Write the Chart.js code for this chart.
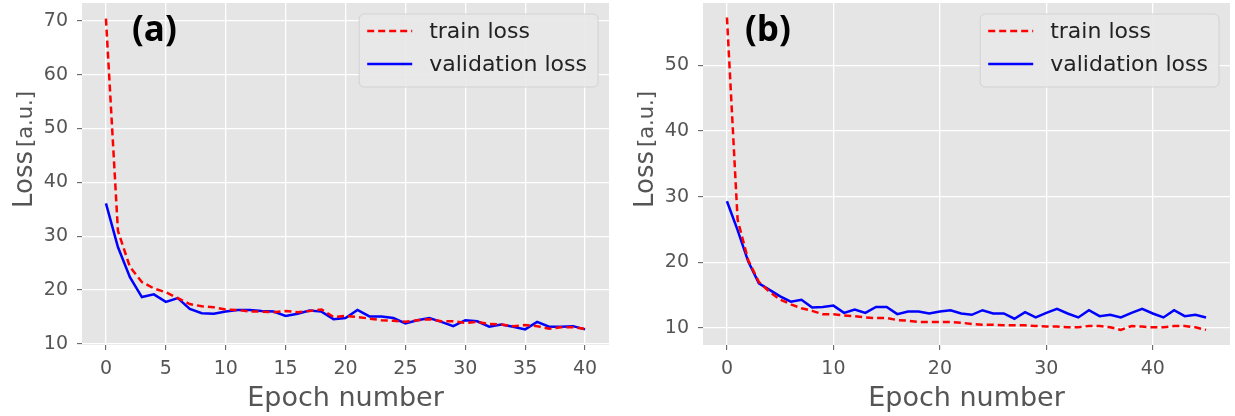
<!DOCTYPE html>
<html>
<head>
<meta charset="utf-8">
<title>Loss curves</title>
<script src="https://cdn.jsdelivr.net/npm/chart.js@4.4.1/dist/chart.umd.min.js"></script>
<style>
  html, body { margin: 0; padding: 0; background: #fff; }
  #wrap { position: relative; width: 1235px; height: 416px; }
  .panel { position: absolute; top: 0; height: 416px; }
  #panel-a { left: 0; width: 615px; }
  #panel-b { left: 615px; width: 620px; }
</style>
</head>
<body>
<div id="wrap">
  <div class="panel" id="panel-a"><canvas id="chart-a"></canvas></div>
  <div class="panel" id="panel-b"><canvas id="chart-b"></canvas></div>
</div>
<script>
// panel (a) - 41 epochs
var trainLossA = [70.4, 31.0, 24.3, 21.5, 20.3, 19.6, 18.5, 17.4, 17.0, 16.8,
                  16.4, 16.3, 16.0, 16.0, 15.9, 16.1, 15.9, 16.1, 16.4, 15.0,
                  15.2, 15.0, 14.7, 14.4, 14.3, 14.1, 14.4, 14.6, 14.2, 14.2,
                  13.9, 14.1, 13.7, 13.6, 13.3, 13.5, 13.3, 12.8, 13.1, 13.1, 12.8];
var valLossA = [36.1, 28.0, 22.4, 18.7, 19.2, 17.8, 18.5, 16.5, 15.7, 15.6,
                16.0, 16.3, 16.3, 16.1, 16.0, 15.2, 15.6, 16.2, 16.0, 14.6,
                14.8, 16.3, 15.1, 15.1, 14.8, 13.8, 14.4, 14.8, 14.1, 13.3,
                14.4, 14.2, 13.2, 13.6, 13.2, 12.7, 14.1, 13.2, 13.2, 13.3, 12.7];
var xTicksA = [0, 5, 10, 15, 20, 25, 30, 35, 40];
var yTicksA = [10, 20, 30, 40, 50, 60, 70];

// panel (b) - 46 epochs
var trainLossB = [57.3, 26.5, 20.3, 17.0, 15.5, 14.3, 13.6, 13.0, 12.6, 12.1,
                  12.1, 11.9, 11.8, 11.6, 11.5, 11.5, 11.2, 11.1, 10.9, 10.9,
                  10.9, 10.9, 10.8, 10.6, 10.5, 10.5, 10.4, 10.4, 10.4, 10.3,
                  10.2, 10.2, 10.1, 10.1, 10.3, 10.3, 10.1, 9.7, 10.3, 10.2,
                  10.1, 10.1, 10.3, 10.3, 10.1, 9.7];
var valLossB = [29.3, 24.9, 20.1, 16.8, 15.8, 14.8, 14.0, 14.3, 13.1, 13.2,
                13.4, 12.3, 12.8, 12.3, 13.2, 13.2, 12.1, 12.5, 12.5, 12.2,
                12.5, 12.7, 12.2, 12.0, 12.7, 12.2, 12.2, 11.4, 12.4, 11.6,
                12.3, 12.9, 12.2, 11.6, 12.7, 11.8, 12.0, 11.6, 12.3, 12.9,
                12.2, 11.6, 12.7, 11.8, 12.0, 11.6];
var xTicksB = [0, 10, 20, 30, 40];
var yTicksB = [10, 20, 30, 40, 50];

var seriesLabels = ['train loss', 'validation loss'];

var FONT = "'DejaVu Sans', sans-serif";
var TICK_COLOR = '#555555';

// grey plot background (ggplot look)
var plotBg = {
  id: 'plotBg',
  beforeDraw: function(chart){
    var a = chart.chartArea, ctx = chart.ctx;
    ctx.save();
    ctx.fillStyle = '#E5E5E5';
    ctx.fillRect(a.left, a.top, a.right - a.left, a.bottom - a.top);
    ctx.restore();
  }
};

// "Loss [a.u.]" - two sizes, so drawn by hand
var yTitle = {
  id: 'yTitle',
  afterDraw: function(chart, args, opts){
    var a = chart.chartArea, ctx = chart.ctx;
    var startY = (a.top + a.bottom) / 2 + 34;
    ctx.save();
    ctx.translate(opts.x, startY);
    ctx.rotate(-Math.PI / 2);
    ctx.fillStyle = TICK_COLOR;
    ctx.textBaseline = 'alphabetic';
    ctx.textAlign = 'left';
    ctx.font = '26px ' + FONT;
    ctx.fillText('Loss', 0, 0);
    var w = ctx.measureText('Loss').width;
    ctx.font = '21px ' + FONT;
    ctx.fillText('[a.u.]', w + 4, 0);
    ctx.restore();
  }
};

// boxed legend inside the top right corner of the plot
var boxLegend = {
  id: 'boxLegend',
  afterDatasetsDraw: function(chart){
    var a = chart.chartArea, ctx = chart.ctx;
    var sets = chart.data.datasets;
    ctx.save();
    ctx.font = '22px ' + FONT;
    var textW = Math.max.apply(null, sets.map(function(d){ return ctx.measureText(d.label).width; }));
    var w = 8 + 45 + 17 + textW + 11, h = 73;
    var x = a.right - 11 - w, y = a.top + 11;

    ctx.beginPath();
    ctx.roundRect(x, y, w, h, 5);
    ctx.fillStyle = 'rgba(232,232,232,0.9)';
    ctx.fill();
    ctx.strokeStyle = '#D2D2D2';
    ctx.lineWidth = 1;
    ctx.stroke();

    sets.forEach(function(d, i){
      var ly = y + 17 + i * 33;
      ctx.beginPath();
      ctx.setLineDash(d.borderDash || []);
      ctx.strokeStyle = d.borderColor;
      ctx.lineWidth = d.borderWidth;
      ctx.moveTo(x + 8, ly);
      ctx.lineTo(x + 53, ly);
      ctx.stroke();
      ctx.setLineDash([]);
      ctx.fillStyle = '#222222';
      ctx.textBaseline = 'middle';
      ctx.fillText(d.label, x + 70, ly + 1);
    });
    ctx.restore();
  }
};

// bold panel tag, (a) / (b)
var panelTag = {
  id: 'panelTag',
  afterDraw: function(chart, args, opts){
    var ctx = chart.ctx;
    ctx.save();
    ctx.font = "bold 35px 'Open Sans', sans-serif";
    ctx.fillStyle = '#000';
    ctx.textBaseline = 'alphabetic';
    ctx.fillText(opts.text, opts.x, opts.y);
    ctx.restore();
  }
};

function toPoints(arr){
  return arr.map(function(v, i){ return {x: i, y: v}; });
}

function makeChart(id, cfg){
  var gridOpts = {
    color: '#FFFFFF',
    lineWidth: 1.3,
    tickColor: TICK_COLOR,
    tickLength: 5,
    tickWidth: 1
  };
  return new Chart(document.getElementById(id), {
    type: 'line',
    data: {
      datasets: [{
        label: seriesLabels[0],
        data: toPoints(cfg.train),
        borderColor: '#FF0000',
        borderWidth: 2.5,
        borderDash: [7, 4],
        pointRadius: 0,
        tension: 0,
        fill: false
      }, {
        label: seriesLabels[1],
        data: toPoints(cfg.val),
        borderColor: '#0000FF',
        borderWidth: 2.5,
        pointRadius: 0,
        tension: 0,
        fill: false
      }]
    },
    options: {
      responsive: true,
      maintainAspectRatio: false,
      animation: false,
      layout: { padding: { top: 3, right: cfg.padRight, left: 0, bottom: 0 } },
      plugins: {
        legend: { display: false },
        tooltip: { enabled: false },
        yTitle: { x: cfg.titleX },
        panelTag: { text: cfg.tag, x: cfg.tagX, y: 41 }
      },
      scales: {
        x: {
          type: 'linear',
          min: cfg.xMin,
          max: cfg.xMax,
          afterBuildTicks: function(s){ s.ticks = cfg.xTicks.map(function(v){ return {value: v}; }); },
          afterFit: function(s){ s.height = 71; s.paddingLeft = 0; s.paddingRight = 0; },
          grid: gridOpts,
          border: { display: false },
          ticks: { color: TICK_COLOR, font: { family: FONT, size: 19 }, padding: 8, maxRotation: 0 },
          title: {
            display: true,
            text: 'Epoch number',
            color: TICK_COLOR,
            font: { family: FONT, size: 27 },
            padding: { top: 0, bottom: 1 }
          }
        },
        y: {
          min: cfg.yMin,
          max: cfg.yMax,
          afterBuildTicks: function(s){ s.ticks = cfg.yTicks.map(function(v){ return {value: v}; }); },
          afterFit: function(s){ s.width = cfg.yWidth; s.paddingTop = 0; s.paddingBottom = 0; },
          grid: gridOpts,
          border: { display: false },
          ticks: { color: TICK_COLOR, font: { family: FONT, size: 19 }, padding: 9 }
        }
      }
    },
    plugins: [plotBg, yTitle, boxLegend, panelTag]
  });
}

makeChart('chart-a', {
  train: trainLossA, val: valLossA,
  xTicks: xTicksA, yTicks: yTicksA,
  xMin: -2, xMax: 42, yMin: 9.8, yMax: 73.3,
  yWidth: 82, padRight: 6, titleX: 32,
  tag: '(a)', tagX: 132
});

makeChart('chart-b', {
  train: trainLossB, val: valLossB,
  xTicks: xTicksB, yTicks: yTicksB,
  xMin: -2.25, xMax: 47.25, yMin: 7.4, yMax: 59.5,
  yWidth: 88, padRight: 5, titleX: 38,
  tag: '(b)', tagX: 130
});
</script>
</body>
</html>
